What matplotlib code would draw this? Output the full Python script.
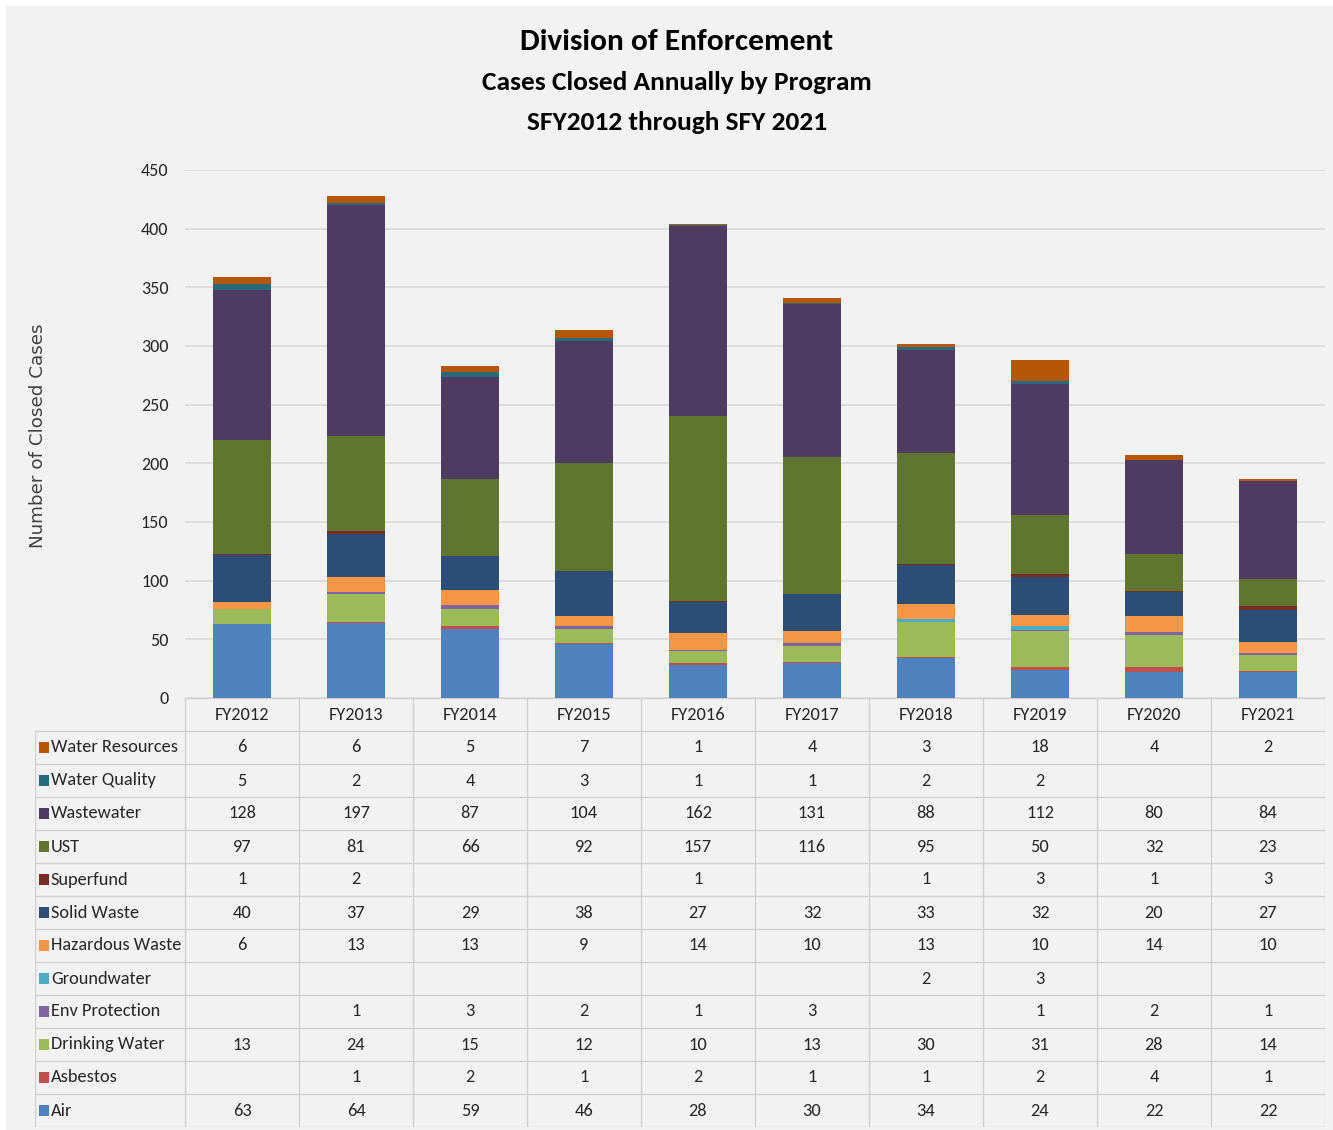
import matplotlib
matplotlib.use("Agg")
import matplotlib.pyplot as plt
from matplotlib.patches import Rectangle
from matplotlib import font_manager
import numpy as np

years = ["FY2012", "FY2013", "FY2014", "FY2015", "FY2016",
         "FY2017", "FY2018", "FY2019", "FY2020", "FY2021"]

# stacking order bottom -> top
air             = [63, 64, 59, 46, 28, 30, 34, 24, 22, 22]
asbestos        = [None, 1, 2, 1, 2, 1, 1, 2, 4, 1]
drinking_water  = [13, 24, 15, 12, 10, 13, 30, 31, 28, 14]
env_protection  = [None, 1, 3, 2, 1, 3, None, 1, 2, 1]
groundwater     = [None, None, None, None, None, None, 2, 3, None, None]
hazardous_waste = [6, 13, 13, 9, 14, 10, 13, 10, 14, 10]
solid_waste     = [40, 37, 29, 38, 27, 32, 33, 32, 20, 27]
superfund       = [1, 2, None, None, 1, None, 1, 3, 1, 3]
ust             = [97, 81, 66, 92, 157, 116, 95, 50, 32, 23]
wastewater      = [128, 197, 87, 104, 162, 131, 88, 112, 80, 84]
water_quality   = [5, 2, 4, 3, 1, 1, 2, 2, None, None]
water_resources = [6, 6, 5, 7, 1, 4, 3, 18, 4, 2]

series = [
    ("Air", air, "#4f81bd"),
    ("Asbestos", asbestos, "#c0504d"),
    ("Drinking Water", drinking_water, "#9bbb59"),
    ("Env Protection", env_protection, "#8064a2"),
    ("Groundwater", groundwater, "#4bacc6"),
    ("Hazardous Waste", hazardous_waste, "#f79646"),
    ("Solid Waste", solid_waste, "#2c4d75"),
    ("Superfund", superfund, "#772c2a"),
    ("UST", ust, "#5f7530"),
    ("Wastewater", wastewater, "#4d3b62"),
    ("Water Quality", water_quality, "#276a7c"),
    ("Water Resources", water_resources, "#b65708"),
]

available = {f.name for f in font_manager.fontManager.ttflist}
main_font = "Lato"
for cand in ["Carlito", "Liberation Sans Narrow", "Roboto Condensed", "Open Sans Condensed", "Lato"]:
    if cand in available:
        main_font = cand
        break
plt.rcParams['font.family'] = [main_font, 'DejaVu Sans']

W, H = 1333, 1130
BG = "#f2f2f2"
TXT = "#262626"
fig = plt.figure(figsize=(W / 100, H / 100), dpi=100, facecolor="white")
fig.patches.append(Rectangle((6 / W, 0), 1 - 6 / W, 1 - 6 / H, transform=fig.transFigure,
                             facecolor=BG, edgecolor="none", zorder=-10))

def fx(px):
    return px / W

def fy(py):
    return 1 - py / H

renderer = fig.canvas.get_renderer()

def fit_text(xc, yc, s, target_w, size, **kw):
    t = fig.text(fx(xc), fy(yc), s, ha="center", va="center", fontsize=size, **kw)
    w = t.get_window_extent(renderer).width
    if w > 0:
        t.set_fontsize(size * target_w / w)
    return t

# main bar axes
ax = fig.add_axes([fx(185), fy(698), fx(1325) - fx(185), fy(170) - fy(698)])
ax.set_facecolor(BG)
x = np.arange(len(years))
bottom = np.zeros(len(years))
for name, vals, col in series:
    v = np.array([0 if a is None else a for a in vals], dtype=float)
    ax.bar(x, v, 0.51, bottom=bottom, color=col, zorder=3)
    bottom += v
ax.set_xlim(-0.5, len(years) - 0.5)
ax.set_ylim(0, 450)
ax.set_yticks(np.arange(0, 451, 50))
ax.tick_params(axis="y", length=0, labelsize=13, colors=TXT, pad=12)
ax.set_xticks([])
ax.grid(axis="y", color="#d9d9d9", linewidth=1.2, zorder=0)
for s in ax.spines.values():
    s.set_visible(False)
fig.text(fx(38), fy(436), "Number of Closed Cases", rotation=90, ha="center", va="center",
         fontsize=13.2, color="#404040", family=["DejaVu Sans"])

# titles
fit_text(677, 42, "Division of Enforcement", 312, 22, fontweight="bold", color="black")
fit_text(677, 83, "Cases Closed Annually by Program", 390, 18, fontweight="bold", color="black")
fit_text(677, 122, "SFY2012 through SFY 2021", 301, 18, fontweight="bold", color="black")

# data table
lab_w = (185 - 35) / 114.0
tax = fig.add_axes([fx(35), fy(1127), fx(1325) - fx(35), fy(698) - fy(1127)])
tax.set_facecolor("none")
tax.set_xlim(-0.5 - lab_w, len(years) - 0.5)
nrows = len(series)
tax.set_ylim(nrows + 1, 0)
tax.axis("off")
lc = "#d0d0d0"
lw = 1.0
tax.plot([-0.5, len(years) - 0.5], [0, 0], color=lc, lw=lw)
for r in range(1, nrows + 2):
    tax.plot([-0.5 - lab_w, len(years) - 0.5], [r, r], color=lc, lw=lw)
tax.plot([-0.5 - lab_w, -0.5 - lab_w], [1, nrows + 1], color=lc, lw=lw)
for c in range(len(years) + 1):
    tax.plot([c - 0.5, c - 0.5], [0, nrows + 1], color=lc, lw=lw)
TS = 13.2
for i, yr in enumerate(years):
    tax.text(i, 0.5, yr, ha="center", va="center", fontsize=TS, color=TXT)
for r, (name, vals, col) in enumerate(reversed(series)):
    yc = r + 1.5
    tax.add_patch(Rectangle((-0.5 - lab_w + 0.035, yc - 0.17), 0.085, 0.34,
                            facecolor=col, edgecolor="none"))
    tax.text(-0.5 - lab_w + 0.14, yc, name, ha="left", va="center", fontsize=TS, color=TXT)
    for i, v in enumerate(vals):
        if v is not None:
            tax.text(i, yc, str(v), ha="center", va="center", fontsize=TS, color=TXT)

fig.savefig("out.png", dpi=100, facecolor=fig.get_facecolor())
